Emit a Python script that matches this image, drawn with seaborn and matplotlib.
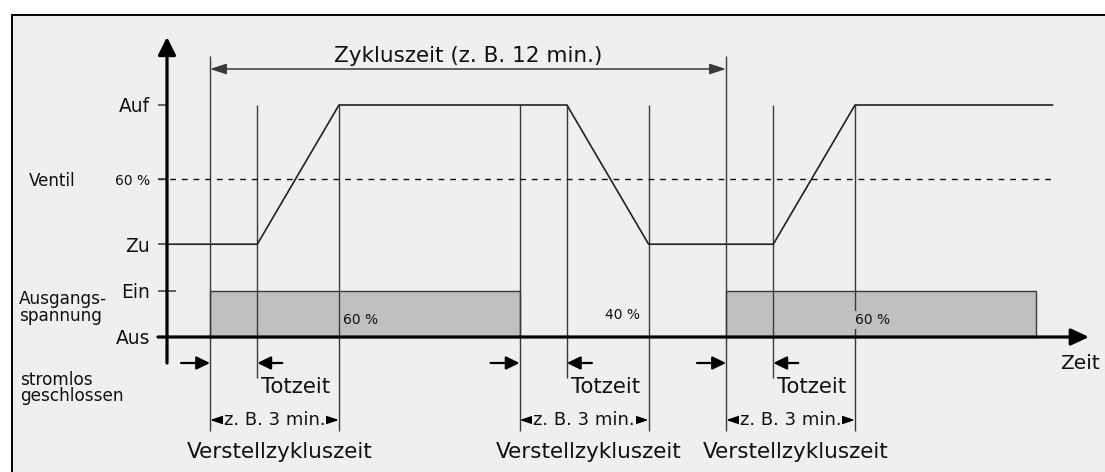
import matplotlib
matplotlib.use("Agg")
import matplotlib.pyplot as plt
from matplotlib.patches import Rectangle
import pandas as pd
import seaborn as sns

# ---- signal levels on the vertical axis (schematic units) ----
level_names = ["Aus", "Ein", "Zu", "60 %", "Auf"]
level_values = [0.0, 1.0, 2.0, 3.4, 5.0]

# ---- timing in minutes ----
cycle_starts = [1.0, 13.0]            # begin / end of one 12-min period
on_starts = [1.0, 13.0]               # output voltage switched on
on_durations = [7.2, 7.2]             # 60 % of the period
off_starts = [8.2]                    # output voltage switched off
switch_times = [1.0, 8.2, 13.0]       # start of each Verstellzykluszeit
dead_ends = [2.1, 9.3, 14.1]          # valve starts to move after the dead time
stroke_ends = [4.0, 11.2, 16.0]       # valve reaches its end position
duty_labels = ["60 %", "40 %", "60 %"]

valve_t = [0.0, 2.1, 4.0, 9.3, 11.2, 14.1, 16.0, 20.6]
valve_state = ["Zu", "Zu", "Auf", "Auf", "Zu", "Zu", "Auf", "Auf"]

LV = dict(zip(level_names, level_values))

# ---- canvas geometry ----
W, H, DPI = 1105, 472, 100
X0, KX = 167.0, 43.0      # pixel column of t = 0, pixels per minute
Y0, KY = 337.0, 46.4      # pixel row of level 0, pixels per level unit


def tx(px):
    return (px - X0) / KX


def ly(py):
    return (Y0 - py) / KY


BG = "#efefef"
BAR = "#c0c0c0"
LINE = "#3a3a3a"
INK = "#111111"

sns.set_theme(style="white")
plt.rcParams["font.family"] = ["DejaVu Sans"]

fig = plt.figure(figsize=(W / DPI, H / DPI), dpi=DPI, facecolor="white")
ax = fig.add_axes([0, 0, 1, 1])
ax.set_xlim(tx(0), tx(W))
ax.set_ylim(ly(H), ly(0))
ax.axis("off")

# framed light panel
ax.add_patch(Rectangle((12 / W, -0.2), 1.3, 1.2 - 15 / H, transform=ax.transAxes,
                       facecolor=BG, edgecolor="black", lw=1.4, zorder=0, clip_on=False))


def arrow(x0, y0, x1, y1, style="-|>", hl=0.4, hw=0.2, ms=18, lw=1.0, color=INK, z=4):
    ax.annotate("", xy=(x1, y1), xytext=(x0, y0),
                arrowprops=dict(arrowstyle=f"{style},head_length={hl},head_width={hw}",
                                mutation_scale=ms, lw=lw, color=color,
                                shrinkA=0, shrinkB=0), zorder=z)


# output voltage (Ein / Aus) as grey bars
ax.bar(on_starts, height=LV["Ein"] - LV["Aus"], width=on_durations, bottom=LV["Aus"],
       align="edge", color=BAR, edgecolor=LINE, linewidth=1.0, zorder=1)

# vertical reference lines
y_low = ly(431)
ax.vlines(cycle_starts, y_low, ly(56), colors=LINE, lw=1.0, zorder=2)
ax.vlines(off_starts, y_low, LV["Auf"], colors=LINE, lw=1.0, zorder=2)
ax.vlines(stroke_ends, y_low, LV["Auf"], colors=LINE, lw=1.0, zorder=2)
ax.vlines(dead_ends, ly(378), LV["Auf"], colors=LINE, lw=1.0, zorder=2)

# 60 % set point (dashed)
ax.hlines(LV["60 %"], tx(158), valve_t[-1], colors=INK, lw=1.0,
          linestyles=(0, (4.2, 4.2)), zorder=2)

# valve position
valve = pd.DataFrame({"t": valve_t, "pos": [LV[s] for s in valve_state]})
sns.lineplot(data=valve, x="t", y="pos", sort=False, estimator=None,
             color="#222222", lw=1.2, ax=ax, zorder=3)

# axes with arrow heads
arrow(0, ly(363), 0, ly(37), hl=0.6, hw=0.3, ms=18, lw=2.3, color="black", z=5)
arrow(tx(158), LV["Aus"], tx(1089), LV["Aus"], hl=0.6, hw=0.28, ms=18, lw=2.3,
      color="black", z=5)

# level ticks
for name in ["Auf", "60 %", "Zu"]:
    ax.hlines(LV[name], tx(158), 0, colors=LINE, lw=1.1, zorder=4)
ax.hlines(LV["Ein"], tx(158), tx(176), colors=LINE, lw=1.1, zorder=4)

# level labels
for name in ["Auf", "Zu", "Ein", "Aus"]:
    ax.text(tx(150), LV[name], name, ha="right", va="center_baseline",
            size=13.4, color=INK, zorder=6)
ax.text(tx(150), LV["60 %"], "60 %", ha="right", va="center_baseline",
        size=10, color=INK, zorder=6)
ax.text(tx(29), LV["60 %"], "Ventil", ha="left", va="center_baseline",
        size=12, color=INK, zorder=6)
ax.text(tx(19), ly(304), "Ausgangs-", ha="left", va="baseline", size=12.2, color=INK)
ax.text(tx(19), ly(321), "spannung", ha="left", va="baseline", size=12.2, color=INK)
ax.text(tx(20), ly(385), "stromlos", ha="left", va="baseline", size=12.2, color=INK)
ax.text(tx(20), ly(401), "geschlossen", ha="left", va="baseline", size=12.2, color=INK)
ax.text(tx(1060), ly(369), "Zeit", ha="left", va="baseline", size=14.6, color=INK)

# cycle time dimension
y_cyc = ly(69)
arrow(cycle_starts[0], y_cyc, cycle_starts[1], y_cyc, style="<|-|>", hl=0.55, hw=0.18,
      ms=18, lw=1.1, color=LINE)
ax.text((cycle_starts[0] + cycle_starts[1]) / 2, ly(62), "Zykluszeit (z. B. 12 min.)",
        ha="center", va="baseline", size=15.5, color=INK)

# duty cycle labels
ax.text(stroke_ends[0] + tx(171), ly(320), duty_labels[0], ha="left", va="center",
        size=10, color=INK, zorder=6)
ax.text((off_starts[0] + cycle_starts[1]) / 2, ly(315), duty_labels[1], ha="center",
        va="center", size=10, color=INK, zorder=6)
ax.text(stroke_ends[2], ly(320), duty_labels[2], ha="left", va="center", size=10,
        color=INK, zorder=6,
        bbox=dict(boxstyle="square,pad=0.15", facecolor=BAR, edgecolor="none"))

# dead time markers
y_dt = ly(363)
for ts in switch_times:
    arrow(ts - tx(196), y_dt, ts, y_dt, hl=0.45, hw=0.22, ms=18, lw=1.6, color="black")
for td in dead_ends:
    arrow(td + tx(192), y_dt, td, y_dt, hl=0.45, hw=0.22, ms=18, lw=1.6, color="black")
    ax.text(td + tx(171), ly(393), "Totzeit", ha="left", va="baseline", size=15.3, color=INK)

# actuating cycle time dimensions
for ts, te in zip(switch_times, stroke_ends):
    arrow(ts, ly(420), te, ly(420), style="<|-|>", hl=0.6, hw=0.2, ms=18, lw=1.2,
          color="black")
    ax.text((ts + te) / 2, ly(420), "z. B. 3 min.", ha="center", va="center",
            size=13, color=INK, zorder=6,
            bbox=dict(boxstyle="square,pad=0.05", facecolor=BG, edgecolor="none"))
    ax.text((ts + te) / 2 + tx(172), ly(458), "Verstellzykluszeit", ha="center",
            va="baseline", size=15.5, color=INK)

fig.savefig("out.png", dpi=DPI, facecolor="white")
